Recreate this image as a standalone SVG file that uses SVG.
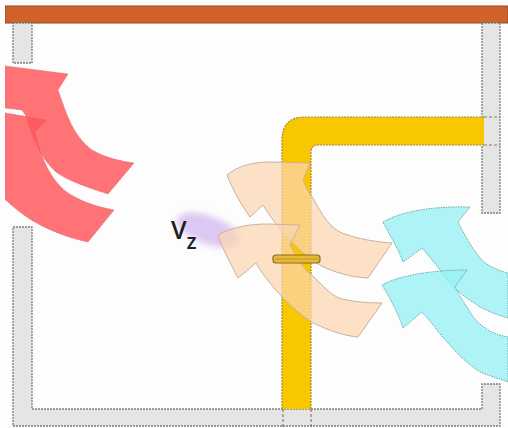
<svg xmlns="http://www.w3.org/2000/svg" width="508" height="428" viewBox="0 0 508 428">
  <style>
    .wall { fill: #E5E5E5; stroke: #7E7E7E; stroke-width: 1.3; stroke-dasharray: 2 1; }
    .pipe { fill: #F9C700; }
    .pipe-edge { fill: none; stroke: #A88A3A; stroke-width: 1.2; stroke-dasharray: 2 1; }
    .hidden-edge { fill: none; stroke: #8A7A5A; stroke-width: 1.2; stroke-dasharray: 3 2; }
    .red { fill: #FF5458; fill-opacity: 0.82; stroke: #D86A6A; stroke-width: 0.8; stroke-dasharray: 1.5 1; }
    .peach { fill: #FBD5B2; fill-opacity: 0.72; stroke: #C9B29C; stroke-width: 1; }
    .cyan { fill: #97F1F3; fill-opacity: 0.78; stroke: #6FA7A8; stroke-width: 1; stroke-dasharray: 1.5 1; }
    .label { font-family: "Open Sans", "Liberation Sans", Arial, sans-serif; font-weight: 600; fill: #1E1E1E; }
  </style>
  <defs>
    <filter id="soft" x="-50%" y="-50%" width="200%" height="200%">
      <feGaussianBlur stdDeviation="3"/>
    </filter>
    <clipPath id="frame">
      <rect x="5" y="0" width="503" height="428"/>
    </clipPath>
  </defs>

  <rect width="508" height="428" fill="#FDFDFD"/>

  <g clip-path="url(#frame)">
    <!-- ceiling beam -->
    <g id="ceiling">
      <rect x="5" y="6" width="503" height="17" fill="#D2622C" stroke="#8E4A2C" stroke-width="1"/>
    </g>

    <!-- walls -->
    <g id="walls">
      <rect class="wall" x="13" y="23" width="19" height="40"/>
      <rect class="wall" x="482" y="23" width="18" height="190"/>
      <path class="wall" d="M13,227 L32,227 L32,409 L482,409 L482,384 L500,384 L500,426 L13,426 Z"/>
    </g>

    <!-- gas pipe -->
    <g id="pipe">
      <path class="pipe" d="M484,117 L305,117 Q282,117 282,140 L282,409 L311,409 L311,152 Q311,145 318,145 L484,145 Z"/>
      <path class="pipe-edge" d="M484,117 L305,117 Q282,117 282,140 L282,409"/>
      <path class="pipe-edge" d="M484,145 L318,145 Q311,145 311,152 L311,409"/>
      <path class="hidden-edge" d="M484,117 L500,117 M484,145 L500,145 M283,409 L283,428 M311,409 L311,428"/>
    </g>

    <!-- warm air entering from the left -->
    <g id="red-flow">
      <path class="red" d="M5,66 L68,74 L58,90 C66,112 72,135 92,150 C106,158 120,161 134,163 L108,194 C90,188 70,182 56,172 C42,160 32,138 26,116 L22,110 L5,108 Z"/>
      <path class="red" d="M5,113 L47,120 L35,132 C40,155 50,180 68,193 C82,202 98,207 114,210 L88,242 C60,236 35,224 20,212 C12,206 8,202 5,199 Z"/>
    </g>

    <!-- vertical velocity marker -->
    <g id="vz">
      <ellipse cx="208" cy="230" rx="33" ry="14" transform="rotate(20 208 230)" fill="#D5BAF0" fill-opacity="0.8" filter="url(#soft)"/>
      <text class="label" x="171" y="239" font-size="25">V<tspan font-size="21" dy="10">z</tspan></text>
    </g>

    <!-- mixed air around the pipe -->
    <g id="peach-flow">
      <path class="peach" d="M227,175 C238,166 252,162 270,162 L310,163 L303,180 C306,188 309,193 313,198 C322,215 330,228 342,233 C358,239 376,242 392,243 L368,278 C350,277 330,272 313,261 C295,248 275,225 263,205 L250,217 C240,203 232,188 227,175 Z"/>
      <path class="peach" d="M218,235 C232,227 250,224 268,224 L300,225 L290,245 C296,258 304,270 315,278 C325,288 332,296 342,299 C355,302 368,303 382,303 L358,337 C345,336 330,331 313,323 C295,312 270,287 256,263 L238,278 C230,262 222,248 218,235 Z"/>
    </g>

    <!-- pipe joint, drawn over the air flow -->
    <g id="joint">
      <rect x="273" y="255" width="47" height="8" rx="3" fill="#E9B936" stroke="#8C6B1E" stroke-width="1.2"/>
      <line x1="275" y1="259" x2="318" y2="259" stroke="#B58C25" stroke-width="0.8"/>
    </g>

    <!-- cool air entering from the right -->
    <g id="cyan-flow">
      <path class="cyan" d="M383,222 C400,212 430,206 470,207 L458,222 C462,230 472,250 484,262 C492,268 500,271 508,273 L508,318 C497,315 488,311 480,307 C470,300 463,296 457,290 C450,283 443,276 440,270 C434,262 428,255 422,248 L403,262 C398,248 390,236 383,222 Z"/>
      <path class="cyan" d="M382,285 C398,276 430,270 467,270 L455,287 C460,297 466,305 470,312 C476,322 482,326 488,330 C495,334 502,336 508,337 L508,382 C500,379 490,376 480,372 C470,365 463,359 457,353 C450,345 443,338 437,330 C432,323 427,318 422,312 L403,328 C398,313 390,298 382,285 Z"/>
    </g>
  </g>
</svg>
